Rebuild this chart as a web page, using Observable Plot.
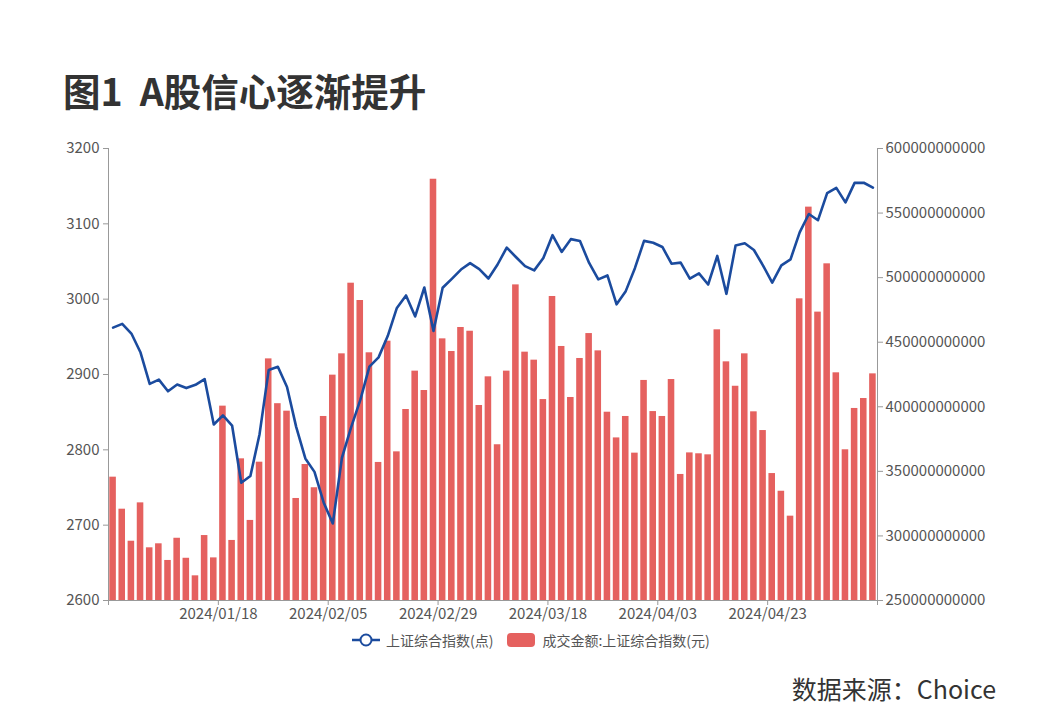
<!DOCTYPE html>
<html><head><meta charset="utf-8">
<script src="https://cdn.jsdelivr.net/npm/d3@7"></script>
<script src="https://cdn.jsdelivr.net/npm/@observablehq/plot@0.6"></script>
<style>
body{margin:0;background:#fff;width:1054px;height:726px;position:relative;overflow:hidden;font-family:"Noto Sans CJK SC","Noto Sans",sans-serif;}
#title{position:absolute;left:63px;top:70px;font-size:37.5px;font-weight:700;color:#333;white-space:pre;line-height:40px;}
#chart{position:absolute;left:0;top:0;}
#legend{position:absolute;top:631px;left:351px;display:flex;align-items:center;font-size:14px;color:#555;white-space:nowrap;line-height:18px;}
#legend svg{display:block;}
#source{position:absolute;right:58px;top:672px;font-size:25px;color:#333;line-height:32px;}
</style></head>
<body>
<div id="title">图1  A股信心逐渐提升</div>
<div id="chart"></div>
<div id="legend"></div>
<div id="source">数据来源：Choice</div>
<script>
const dates = ["2024/01/02","2024/01/03","2024/01/04","2024/01/05","2024/01/08","2024/01/09","2024/01/10","2024/01/11","2024/01/12","2024/01/15","2024/01/16","2024/01/17","2024/01/18","2024/01/19","2024/01/22","2024/01/23","2024/01/24","2024/01/25","2024/01/26","2024/01/29","2024/01/30","2024/01/31",
"2024/02/01","2024/02/02","2024/02/05","2024/02/06","2024/02/07","2024/02/08","2024/02/19","2024/02/20","2024/02/21","2024/02/22","2024/02/23","2024/02/26","2024/02/27","2024/02/28","2024/02/29",
"2024/03/01","2024/03/04","2024/03/05","2024/03/06","2024/03/07","2024/03/08","2024/03/11","2024/03/12","2024/03/13","2024/03/14","2024/03/15","2024/03/18","2024/03/19","2024/03/20","2024/03/21","2024/03/22","2024/03/25","2024/03/26","2024/03/27","2024/03/28","2024/03/29",
"2024/04/01","2024/04/02","2024/04/03","2024/04/08","2024/04/09","2024/04/10","2024/04/11","2024/04/12","2024/04/15","2024/04/16","2024/04/17","2024/04/18","2024/04/19","2024/04/22","2024/04/23","2024/04/24","2024/04/25","2024/04/26","2024/04/29","2024/04/30",
"2024/05/06","2024/05/07","2024/05/08","2024/05/09","2024/05/10","2024/05/13"];

const closeIndex = [2962.28,2967.25,2954.35,2929.18,2887.54,2893.25,2877.70,2886.65,2881.98,2886.29,2893.99,2833.62,2845.78,2832.28,2756.34,2765.25,2820.77,2906.11,2910.22,2883.36,2830.53,2788.55,
2770.74,2730.15,2702.19,2789.49,2829.70,2865.90,2910.54,2922.73,2950.96,2988.36,3004.88,2977.02,3015.48,2957.85,3015.17,
3027.02,3039.31,3047.79,3039.93,3027.40,3046.02,3068.46,3055.94,3043.83,3038.23,3054.64,3084.93,3062.76,3079.69,3077.11,3048.03,3026.31,3031.48,2993.14,3010.66,3041.17,
3077.38,3074.96,3069.30,3047.05,3048.54,3027.34,3034.25,3019.47,3057.38,3007.07,3071.38,3074.22,3065.26,3044.60,3021.98,3044.82,3052.90,3088.64,3113.04,3104.82,
3140.72,3147.74,3128.48,3154.32,3154.55,3148.02];

const turnover = [345.5e9,320.7e9,295.9e9,325.6e9,290.8e9,293.9e9,281.0e9,298.2e9,282.7e9,269.1e9,300.3e9,283.0e9,400.5e9,296.5e9,359.7e9,312.0e9,357.1e9,437.1e9,402.4e9,396.6e9,329.0e9,355.3e9,
337.3e9,392.5e9,424.5e9,441.0e9,495.7e9,482.3e9,441.8e9,356.9e9,450.8e9,365.1e9,397.9e9,427.6e9,412.6e9,576.2e9,452.6e9,
442.8e9,461.4e9,458.5e9,401.0e9,423.2e9,370.6e9,427.6e9,494.4e9,442.3e9,436.1e9,405.6e9,485.4e9,446.7e9,407.2e9,437.4e9,456.7e9,443.3e9,395.8e9,375.9e9,392.5e9,364.1e9,
420.4e9,396.3e9,392.5e9,421.1e9,347.6e9,364.3e9,363.6e9,362.8e9,459.6e9,434.8e9,415.9e9,441.0e9,396.1e9,381.6e9,348.3e9,334.6e9,315.3e9,483.6e9,554.6e9,473.3e9,
510.7e9,426.3e9,366.7e9,398.7e9,406.4e9,425.5e9];

const leftTicks = [2600,2700,2800,2900,3000,3100,3200];
const rightTicks = [250e9,300e9,350e9,400e9,450e9,500e9,550e9,600e9];
const xTickEvery = 12;

const seriesLine = "上证综合指数(点)";
const seriesBar = "成交金额:上证综合指数(元)";
const lineColor = "#1b4b9e";
const barColor = "#e5615f";

// map right-axis values into left-axis domain
const L0 = leftTicks[0], L1 = leftTicks[leftTicks.length-1];
const R0 = rightTicks[0], R1 = rightTicks[rightTicks.length-1];
const toLeft = v => L0 + (v - R0) / (R1 - R0) * (L1 - L0);
const toRight = y => R0 + (y - L0) / (L1 - L0) * (R1 - R0);

const n = dates.length;
const data = dates.map((d, i) => ({i, date: d, close: closeIndex[i], vol: turnover[i]}));
const xTicks = d3.range(0, n + 1, xTickEvery);

const font = '"Noto Sans CJK SC","Noto Sans",sans-serif';
const chart = Plot.plot({
  width: 1054,
  height: 660,
  marginTop: 148,
  marginBottom: 60,
  marginLeft: 108,
  marginRight: 177,
  style: {fontFamily: font, fontSize: "15px", background: "transparent"},
  x: {type: "linear", domain: [0, n], axis: null, label: null},
  y: {domain: [L0, L1], axis: null, label: null},
  marks: [
    Plot.rect(data, {x1: d => d.i, x2: d => d.i + 1, y1: L0, y2: d => toLeft(d.vol), fill: barColor, insetLeft: 1.3, insetRight: 1.3}),
    Plot.line(data, {x: d => d.i + 0.5, y: "close", stroke: lineColor, strokeWidth: 2.6, curve: "linear"}),
    Plot.ruleY([L0], {stroke: "#999", strokeWidth: 1}),
    Plot.ruleX([0], {y1: L0, y2: L1, stroke: "#999"}),
    Plot.ruleX([n], {y1: L0, y2: L1, stroke: "#999"}),
    Plot.axisY({anchor: "left", label: null, ticks: leftTicks, tickSize: 5, tickPadding: 4, stroke: "#999", fill: "#555", fontSize: 15, tickFormat: d => String(d)}),
    Plot.axisY(rightTicks.map(toLeft), {anchor: "right", label: null, tickSize: 5, tickPadding: 3, stroke: "#999", fill: "#555", fontSize: 15, tickFormat: d => String(Math.round(toRight(d) / 1e9) * 1e9)}),
    Plot.axisX(xTicks, {anchor: "bottom", label: null, tickSize: 5, tickPadding: 3, stroke: "#999", fill: "#555", fontSize: 15, tickFormat: i => (i > 0 && i < n) ? dates[i] : ""})
  ]
});
document.getElementById("chart").appendChild(chart);

const legend = document.getElementById("legend");
legend.innerHTML =
  `<svg width="30" height="16"><line x1="1" y1="8" x2="29" y2="8" stroke="${lineColor}" stroke-width="2.5"/><circle cx="15" cy="8" r="5.5" fill="#fff" stroke="${lineColor}" stroke-width="2"/></svg>` +
  `<span style="margin-left:5px">${seriesLine}</span>` +
  `<svg width="28" height="14" style="margin-left:14px"><rect x="0" y="0" width="28" height="14" rx="4" fill="${barColor}"/></svg>` +
  `<span style="margin-left:7px">${seriesBar}</span>`;
</script>
</body></html>
